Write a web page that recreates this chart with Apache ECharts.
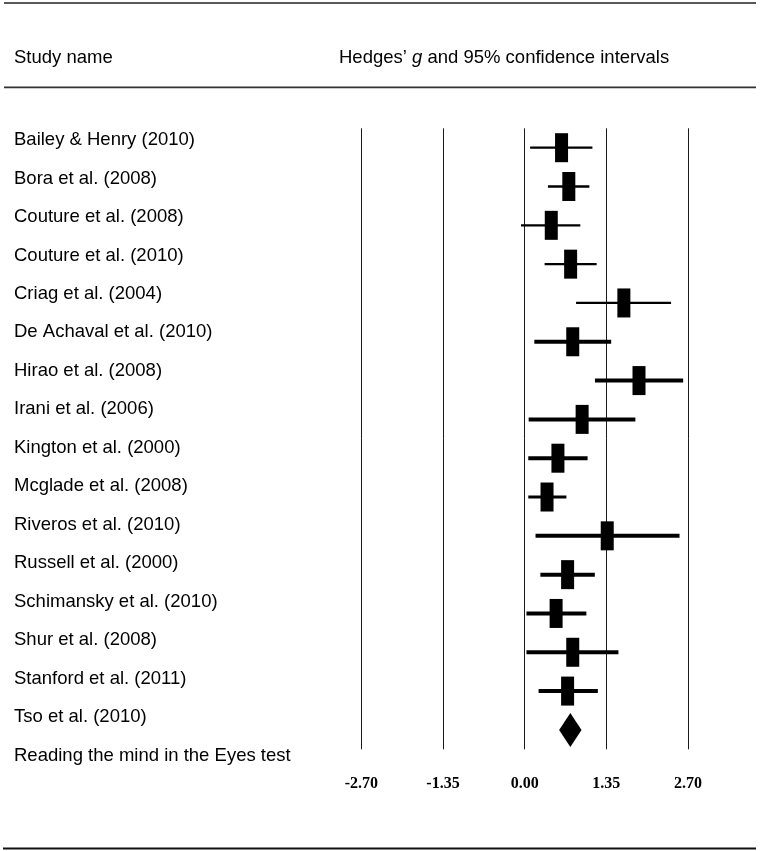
<!DOCTYPE html>
<html>
<head>
<meta charset="utf-8">
<script src="https://cdn.jsdelivr.net/npm/echarts@6/dist/echarts.min.js"></script>
<style>
html,body{margin:0;padding:0;background:#fff;}
#chart{width:760px;height:851px;}
</style>
</head>
<body>
<div id="chart"></div>
<script>
// ---- data ----
const labels = [
  'Bailey & Henry (2010)',
  'Bora et al. (2008)',
  'Couture et al. (2008)',
  'Couture et al. (2010)',
  'Criag et al. (2004)',
  'De Achaval et al. (2010)',
  'Hirao et al. (2008)',
  'Irani et al. (2006)',
  'Kington et al. (2000)',
  'Mcglade et al. (2008)',
  'Riveros et al. (2010)',
  'Russell et al. (2000)',
  'Schimansky et al. (2010)',
  'Shur et al. (2008)',
  'Stanford et al. (2011)',
  'Tso et al. (2010)',
  'Reading the mind in the Eyes test'
];
// plotted study rows (as drawn in the figure)
const hedgesG = [0.61, 0.73, 0.44, 0.76, 1.64, 0.795, 1.89, 0.95, 0.55, 0.37, 1.365, 0.71, 0.52, 0.795, 0.71];
const ciLower = [0.09, 0.385, -0.06, 0.33, 0.85, 0.16, 1.162, 0.066, 0.06, 0.06, 0.18, 0.26, 0.03, 0.03, 0.23];
const ciUpper = [1.12, 1.07, 0.92, 1.19, 2.42, 1.43, 2.62, 1.83, 1.04, 0.69, 2.56, 1.16, 1.02, 1.55, 1.21];
// pooled estimate (diamond)
const summaryG = 0.755;
const summaryLower = 0.57;
const summaryUpper = 0.94;
// axis ticks
const tickValues = [-2.70, -1.35, 0.00, 1.35, 2.70];
const tickLabels = ['-2.70', '-1.35', '0.00', '1.35', '2.70'];

// ---- styles (kept apart from data) ----
const ciWidths = [2.3, 2.3, 2.3, 2.3, 2.3, 4, 4, 4, 4, 3.2, 4, 4, 4, 4, 4];

const rowCats = [];
for (let i = 0; i <= hedgesG.length; i++) rowCats.push(String(i));

const studyData = hedgesG.map((g, i) => [i, g, ciLower[i], ciUpper[i]]);
const summaryData = [[hedgesG.length, summaryG, summaryLower, summaryUpper]];

const chart = echarts.init(document.getElementById('chart'), null, {renderer: 'canvas'});
const textFont = '"Liberation Sans", Arial, sans-serif';

const option = {
  animation: false,
  backgroundColor: '#fff',
  grid: [
    {left: 361.3, right: 72, top: 128.3, height: 621},
    {left: 14, width: 320, top: 120.8, height: 654}
  ],
  xAxis: [
    {
      gridIndex: 0, type: 'value',
      min: tickValues[0], max: tickValues[tickValues.length - 1], interval: 1.35,
      axisLine: {show: false}, axisTick: {show: false},
      splitLine: {show: true, lineStyle: {color: '#1a1a1a', width: 1}},
      axisLabel: {
        margin: 27,
        fontFamily: '"Liberation Serif", serif',
        fontWeight: 'bold', fontSize: 16, color: '#000',
        formatter: function (v) {
          const idx = Math.round((v - tickValues[0]) / 1.35);
          return tickLabels[idx];
        }
      }
    },
    {gridIndex: 1, type: 'value', show: false}
  ],
  yAxis: [
    {
      gridIndex: 0, type: 'category', data: rowCats, inverse: true,
      show: false
    },
    {
      gridIndex: 1, type: 'category', data: labels, inverse: true,
      axisLine: {show: false}, axisTick: {show: false}, splitLine: {show: false},
      axisLabel: {
        inside: true, margin: 0, align: 'left',
        fontFamily: textFont, fontSize: 18.5, color: '#000'
      }
    }
  ],
  series: [
    {
      type: 'custom', xAxisIndex: 0, yAxisIndex: 0, clip: false,
      encode: {x: [1, 2, 3], y: 0},
      data: studyData,
      renderItem: function (params, api) {
        const row = api.value(0);
        const c = api.coord([api.value(1), row]);
        const lo = api.coord([api.value(2), row]);
        const hi = api.coord([api.value(3), row]);
        return {
          type: 'group',
          children: [
            {type: 'line', shape: {x1: lo[0], y1: lo[1], x2: hi[0], y2: hi[1]},
             style: {stroke: '#000', lineWidth: ciWidths[params.dataIndex]}},
            {type: 'rect', shape: {x: c[0] - 6.5, y: c[1] - 14.5, width: 13, height: 29},
             style: {fill: '#000'}}
          ]
        };
      }
    },
    {
      type: 'custom', xAxisIndex: 0, yAxisIndex: 0, clip: false,
      encode: {x: [1, 2, 3], y: 0},
      data: summaryData,
      renderItem: function (params, api) {
        const row = api.value(0);
        const c = api.coord([api.value(1), row]);
        const lo = api.coord([api.value(2), row]);
        const hi = api.coord([api.value(3), row]);
        return {
          type: 'polygon',
          shape: {points: [[lo[0], c[1]], [c[0], c[1] - 17], [hi[0], c[1]], [c[0], c[1] + 17]]},
          style: {fill: '#000'}
        };
      }
    }
  ],
  graphic: [
    {type: 'line', shape: {x1: 4, y1: 3, x2: 756, y2: 3}, style: {stroke: '#222', lineWidth: 1.3}},
    {type: 'line', shape: {x1: 4, y1: 87.3, x2: 756, y2: 87.3}, style: {stroke: '#333', lineWidth: 1.8}},
    {type: 'line', shape: {x1: 3, y1: 848.5, x2: 756, y2: 848.5}, style: {stroke: '#111', lineWidth: 2.2}},
    {type: 'text', x: 14, y: 57.5,
     style: {text: 'Study name', font: '18.5px ' + textFont, fill: '#000', verticalAlign: 'middle', align: 'left'}},
    {type: 'text', x: 339, y: 57.5,
     style: {
       text: '{a|Hedges’ }{g|g}{a| and 95% confidence intervals}',
       verticalAlign: 'middle', align: 'left',
       rich: {
         a: {fontFamily: textFont, fontSize: 18.5, fill: '#000', color: '#000'},
         g: {fontFamily: textFont, fontSize: 18.5, fontStyle: 'italic', fill: '#000', color: '#000'}
       }
     }}
  ]
};
chart.setOption(option);
</script>
</body>
</html>
